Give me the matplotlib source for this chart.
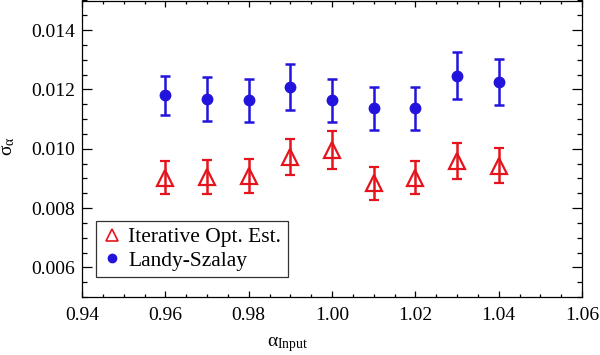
import matplotlib
matplotlib.use("Agg")
import matplotlib.pyplot as plt
from matplotlib.ticker import MultipleLocator, FormatStrFormatter

alpha_input = [0.96, 0.97, 0.98, 0.99, 1.00, 1.01, 1.02, 1.03, 1.04]
iter_sigma = [0.00903, 0.00906, 0.00908, 0.00971, 0.00996, 0.00883, 0.00903, 0.00958, 0.00942]
iter_err = [0.00056, 0.00057, 0.00057, 0.00061, 0.00063, 0.00056, 0.00056, 0.00060, 0.00059]
ls_sigma = [0.01181, 0.01168, 0.01163, 0.01209, 0.01163, 0.01136, 0.01136, 0.01246, 0.01226]
ls_err = [0.00066, 0.00074, 0.00073, 0.00077, 0.00073, 0.00072, 0.00072, 0.00079, 0.00077]

plt.rcParams['font.family'] = ['Liberation Serif', 'DejaVu Serif']
plt.rcParams['mathtext.fontset'] = 'custom'
plt.rcParams['mathtext.rm'] = 'Liberation Serif'
plt.rcParams['mathtext.it'] = 'Liberation Serif'

RED = '#E5141C'
BLUE = '#2214DC'

fig = plt.figure(figsize=(6.0, 3.55), dpi=100)
ax = fig.add_axes([82/600, 1-297/355, 500/600, 296.5/355])

ax.errorbar(alpha_input, iter_sigma, yerr=iter_err, fmt='^', ms=11, mfc='none',
            mec=RED, mew=1.6, ecolor=RED, elinewidth=1.8, capsize=3.5, capthick=1.8,
            label='Iterative Opt. Est.')
ax.errorbar(alpha_input, ls_sigma, yerr=ls_err, fmt='o', ms=7.5, mfc=BLUE,
            mec=BLUE, ecolor=BLUE, elinewidth=1.8, capsize=3.5, capthick=1.8,
            label='Landy-Szalay')

ax.set_xlim(0.94, 1.06)
ax.set_ylim(0.005, 0.015)
ax.xaxis.set_major_locator(MultipleLocator(0.02))
ax.xaxis.set_minor_locator(MultipleLocator(0.005))
ax.yaxis.set_major_locator(MultipleLocator(0.002))
ax.yaxis.set_minor_locator(MultipleLocator(0.0005))
ax.xaxis.set_major_formatter(FormatStrFormatter('%.2f'))
ax.yaxis.set_major_formatter(FormatStrFormatter('%.3f'))

ax.tick_params(which='both', direction='in', top=True, right=True, labelsize=14, width=0.9)
ax.tick_params(axis='x', which='major', length=4.5, pad=7)
ax.tick_params(axis='x', which='minor', length=2.2)
ax.tick_params(axis='y', which='major', length=7, pad=5)
ax.tick_params(axis='y', which='minor', length=3.8)
for s in ax.spines.values():
    s.set_linewidth(0.9)

ax.set_xlabel(r'$\alpha_{\rm Input}$', fontsize=14)
ax.xaxis.set_label_coords((288 - 82) / 500, -(345 - 297) / 296.5)
ax.xaxis.label.set_va('center')
ax.set_ylabel(r'$\sigma_{\alpha}$', fontsize=14)
ax.yaxis.set_label_coords(-(82 - 8) / 500, (297 - 146) / 296.5)
ax.yaxis.label.set_va('center')

handles, labels = ax.get_legend_handles_labels()
handles = [h[0] for h in handles]
leg = ax.legend(handles, labels, loc='lower left', bbox_to_anchor=(14/500, 20/296.5),
                fontsize=15.5, frameon=True, fancybox=False, edgecolor='black',
                handlelength=0.85, handletextpad=0.35, borderpad=0.3, labelspacing=0.15,
                borderaxespad=0, markerscale=0.8)
leg.get_frame().set_linewidth(0.9)
for h in leg.legend_handles:
    if h.get_marker() == '^':
        h.set_markeredgewidth(1.2)

fig.savefig('out.png', dpi=100)
